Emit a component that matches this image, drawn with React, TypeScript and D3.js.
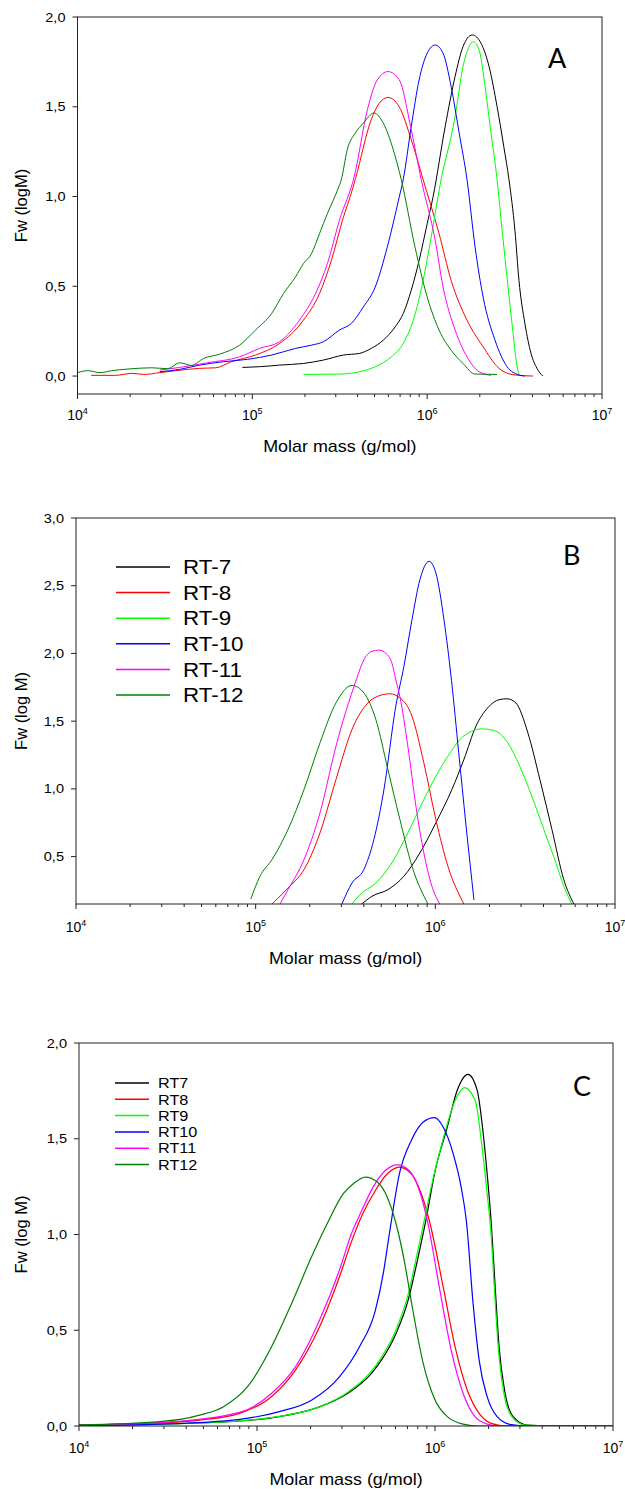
import React from 'react'
import * as d3 from 'd3'

// each point: [log10 of molar mass, Fw]
type Pt = [number, number]

const COLORS = ['#000000', '#ff0000', '#00ff00', '#0000ff', '#ff00ff', '#007f00']
const NAMES_B = ['RT-7', 'RT-8', 'RT-9', 'RT-10', 'RT-11', 'RT-12']
const NAMES_C = ['RT7', 'RT8', 'RT9', 'RT10', 'RT11', 'RT12']
const X_DECADES = [4, 5, 6, 7]

// ---- panel A
const A_RT7: Pt[] = [[4.943, 0.048], [5.041, 0.052], [5.155, 0.061], [5.292, 0.07], [5.406, 0.089], [5.521, 0.117], [5.612, 0.126], [5.68, 0.154], [5.749, 0.2], [5.817, 0.274], [5.863, 0.348], [5.909, 0.478], [5.954, 0.644], [6.0, 0.848], [6.034, 1.0], [6.103, 1.39], [6.16, 1.67], [6.205, 1.835], [6.258, 1.9], [6.308, 1.854], [6.354, 1.724], [6.4, 1.5], [6.438, 1.28], [6.468, 1.094], [6.502, 0.811], [6.525, 0.533], [6.559, 0.293], [6.594, 0.126], [6.628, 0.043], [6.662, 0]]
const A_RT8: Pt[] = [[4.078, 0.004], [4.219, 0.004], [4.311, 0.015], [4.379, 0.009], [4.47, 0.019], [4.562, 0.03], [4.699, 0.043], [4.79, 0.046], [4.881, 0.08], [5.018, 0.117], [5.155, 0.181], [5.292, 0.311], [5.384, 0.459], [5.452, 0.644], [5.521, 0.885], [5.56, 1.0], [5.59, 1.1], [5.68, 1.428], [5.726, 1.52], [5.776, 1.552], [5.84, 1.5], [5.909, 1.317], [5.977, 1.094], [6.068, 0.793], [6.137, 0.533], [6.228, 0.311], [6.32, 0.163], [6.411, 0.043], [6.502, 0.006], [6.605, 0]]
const A_RT9: Pt[] = [[5.292, 0.009], [5.498, 0.011], [5.612, 0.024], [5.703, 0.052], [5.795, 0.107], [5.863, 0.181], [5.932, 0.348], [5.977, 0.533], [6.023, 0.774], [6.075, 1.07], [6.16, 1.446], [6.205, 1.724], [6.24, 1.835], [6.263, 1.863], [6.297, 1.817], [6.331, 1.613], [6.365, 1.354], [6.4, 1.094], [6.43, 0.8], [6.46, 0.52], [6.49, 0.25], [6.51, 0.08], [6.525, 0.005]]
const A_RT10: Pt[] = [[4.47, 0.024], [4.584, 0.037], [4.699, 0.061], [4.836, 0.08], [4.973, 0.093], [5.11, 0.117], [5.247, 0.154], [5.338, 0.172], [5.406, 0.191], [5.498, 0.256], [5.566, 0.293], [5.635, 0.385], [5.703, 0.496], [5.772, 0.719], [5.84, 0.996], [5.863, 1.094], [5.909, 1.39], [5.954, 1.65], [6.0, 1.798], [6.046, 1.844], [6.091, 1.798], [6.137, 1.613], [6.183, 1.354], [6.228, 1.094], [6.274, 0.719], [6.32, 0.44], [6.388, 0.2], [6.457, 0.052], [6.525, 0.006], [6.559, 0]]
const A_RT11: Pt[] = [[4.47, 0.033], [4.584, 0.048], [4.744, 0.074], [4.927, 0.107], [5.041, 0.154], [5.155, 0.191], [5.269, 0.311], [5.361, 0.459], [5.429, 0.626], [5.498, 0.867], [5.585, 1.12], [5.658, 1.483], [5.715, 1.65], [5.776, 1.696], [5.84, 1.65], [5.909, 1.372], [5.966, 1.094], [6.046, 0.756], [6.091, 0.496], [6.16, 0.256], [6.228, 0.107], [6.297, 0.024], [6.365, 0.004]]
const A_RT12: Pt[] = [[4.0, 0.019], [4.059, 0.03], [4.128, 0.019], [4.196, 0.03], [4.288, 0.039], [4.425, 0.046], [4.516, 0.041], [4.584, 0.074], [4.653, 0.059], [4.721, 0.098], [4.813, 0.122], [4.927, 0.172], [5.018, 0.256], [5.11, 0.348], [5.178, 0.459], [5.247, 0.552], [5.292, 0.626], [5.338, 0.681], [5.384, 0.793], [5.429, 0.904], [5.486, 1.033], [5.509, 1.094], [5.543, 1.261], [5.589, 1.354], [5.635, 1.409], [5.696, 1.465], [5.749, 1.409], [5.806, 1.261], [5.852, 1.094], [5.93, 0.72], [6.0, 0.441], [6.068, 0.256], [6.137, 0.144], [6.205, 0.07], [6.274, 0.011], [6.4, 0.009]]

// ---- panel B
const B_RT7: Pt[] = [[5.591, 0.15], [5.647, 0.207], [5.736, 0.256], [5.825, 0.355], [5.914, 0.527], [6.003, 0.749], [6.092, 0.995], [6.159, 1.217], [6.226, 1.463], [6.292, 1.599], [6.359, 1.66], [6.399, 1.665], [6.448, 1.635], [6.515, 1.414], [6.582, 1.069], [6.649, 0.7], [6.715, 0.33], [6.771, 0.15]]
const B_RT8: Pt[] = [[5.091, 0.15], [5.18, 0.268], [5.269, 0.404], [5.358, 0.675], [5.447, 1.069], [5.536, 1.438], [5.625, 1.635], [5.692, 1.69], [5.747, 1.702], [5.803, 1.672], [5.87, 1.537], [5.936, 1.192], [6.003, 0.773], [6.07, 0.429], [6.159, 0.15]]
const B_RT9: Pt[] = [[5.536, 0.15], [5.58, 0.219], [5.669, 0.305], [5.758, 0.453], [5.847, 0.675], [5.936, 0.921], [6.003, 1.094], [6.07, 1.241], [6.137, 1.365], [6.203, 1.426], [6.259, 1.443], [6.337, 1.426], [6.403, 1.34], [6.47, 1.167], [6.537, 0.946], [6.604, 0.7], [6.671, 0.453], [6.715, 0.281], [6.76, 0.15]]
const B_RT10: Pt[] = [[5.48, 0.15], [5.536, 0.305], [5.602, 0.404], [5.658, 0.626], [5.714, 0.995], [5.78, 1.611], [5.825, 1.904], [5.87, 2.249], [5.914, 2.544], [5.965, 2.68], [6.003, 2.594], [6.048, 2.249], [6.09, 1.8], [6.13, 1.27], [6.17, 0.74], [6.215, 0.18]]
const B_RT11: Pt[] = [[5.135, 0.15], [5.18, 0.256], [5.269, 0.478], [5.358, 0.823], [5.447, 1.315], [5.56, 1.805], [5.602, 1.953], [5.647, 2.015], [5.687, 2.025], [5.725, 2.0], [5.758, 1.93], [5.78, 1.805], [5.803, 1.68], [5.847, 1.315], [5.892, 0.872], [5.936, 0.527], [5.981, 0.281], [6.025, 0.15]]
const B_RT12: Pt[] = [[4.973, 0.187], [5.024, 0.355], [5.091, 0.478], [5.18, 0.7], [5.269, 0.995], [5.358, 1.34], [5.447, 1.635], [5.536, 1.764], [5.602, 1.709], [5.669, 1.512], [5.736, 1.143], [5.803, 0.773], [5.87, 0.429], [5.959, 0.15]]

// ---- panel C
const C_RT7: Pt[] = [[4.0, 0.003], [4.453, 0.01], [4.902, 0.026], [5.126, 0.049], [5.351, 0.1], [5.508, 0.17], [5.642, 0.274], [5.7, 0.345], [5.78, 0.48], [5.85, 0.66], [5.9, 0.86], [5.95, 1.08], [6.0, 1.33], [6.069, 1.561], [6.125, 1.753], [6.185, 1.836], [6.237, 1.753], [6.271, 1.526], [6.298, 1.265], [6.315, 1.073], [6.338, 0.726], [6.36, 0.413], [6.394, 0.17], [6.439, 0.049], [6.518, 0.005], [6.697, 0], [7.0, 0]]
const C_RT8: Pt[] = [[4.0, 0.004], [4.453, 0.016], [4.678, 0.031], [4.902, 0.066], [5.081, 0.153], [5.216, 0.292], [5.351, 0.517], [5.463, 0.778], [5.53, 0.96], [5.59, 1.1], [5.665, 1.23], [5.732, 1.317], [5.8, 1.352], [5.867, 1.317], [5.923, 1.213], [5.968, 1.073], [6.046, 0.726], [6.113, 0.413], [6.181, 0.188], [6.248, 0.066], [6.315, 0.014], [6.405, 0], [7.0, 0]]
const C_RT9: Pt[] = [[4.0, 0.003], [4.453, 0.01], [4.902, 0.027], [5.126, 0.05], [5.351, 0.1], [5.508, 0.175], [5.642, 0.285], [5.7, 0.36], [5.78, 0.5], [5.85, 0.69], [5.9, 0.9], [5.95, 1.12], [5.979, 1.25], [6.046, 1.5], [6.113, 1.7], [6.165, 1.767], [6.226, 1.7], [6.26, 1.491], [6.293, 1.213], [6.315, 1.003], [6.333, 0.726], [6.355, 0.413], [6.387, 0.17], [6.432, 0.049], [6.506, 0.005], [6.69, 0], [7.0, 0]]
const C_RT10: Pt[] = [[4.0, 0.003], [4.453, 0.01], [4.902, 0.035], [5.126, 0.075], [5.306, 0.135], [5.463, 0.257], [5.575, 0.413], [5.665, 0.604], [5.71, 0.8], [5.743, 1.0], [5.8, 1.317], [5.867, 1.491], [5.934, 1.587], [5.997, 1.61], [6.046, 1.561], [6.102, 1.422], [6.147, 1.247], [6.176, 1.073], [6.214, 0.639], [6.248, 0.344], [6.293, 0.153], [6.349, 0.049], [6.428, 0.007], [6.518, 0], [7.0, 0]]
const C_RT11: Pt[] = [[4.0, 0.005], [4.453, 0.017], [4.902, 0.071], [5.081, 0.17], [5.216, 0.309], [5.351, 0.552], [5.463, 0.813], [5.53, 1.003], [5.586, 1.12], [5.654, 1.25], [5.721, 1.334], [5.788, 1.364], [5.855, 1.334], [5.912, 1.23], [5.957, 1.073], [6.024, 0.726], [6.091, 0.396], [6.158, 0.17], [6.225, 0.049], [6.293, 0.01], [6.36, 0], [7.0, 0]]
const C_RT12: Pt[] = [[4.0, 0.006], [4.453, 0.023], [4.678, 0.057], [4.812, 0.101], [4.947, 0.205], [5.081, 0.413], [5.194, 0.639], [5.306, 0.882], [5.396, 1.06], [5.485, 1.213], [5.541, 1.265], [5.609, 1.3], [5.676, 1.274], [5.732, 1.195], [5.78, 1.06], [5.83, 0.85], [5.867, 0.65], [5.934, 0.326], [6.001, 0.135], [6.069, 0.049], [6.158, 0.01], [6.248, 0], [7.0, 0]]

const A_SERIES = [A_RT7, A_RT8, A_RT9, A_RT10, A_RT11, A_RT12]
const B_SERIES = [B_RT7, B_RT8, B_RT9, B_RT10, B_RT11, B_RT12]
const C_SERIES = [C_RT7, C_RT8, C_RT9, C_RT10, C_RT11, C_RT12]

const A_YTICKS = [0, 0.5, 1.0, 1.5, 2.0]
const B_YTICKS = [0.5, 1.0, 1.5, 2.0, 2.5, 3.0]
const C_YTICKS = [0, 0.5, 1.0, 1.5, 2.0]

const FONT = '"Liberation Sans", Arial, sans-serif'
const SX = 1.12 // the source figure is a little stretched sideways

const fmt = (v: number) => d3.format('.1f')(v).replace('.', ',')

function Txt({ x, y, size, anchor = 'start', family = FONT, children }: any) {
  return <text transform={`translate(${x},${y}) scale(${SX},1)`} fontSize={size}
               textAnchor={anchor} fontFamily={family} fill="#000">{children}</text>
}

function Panel({ id, series, box, yDomain, yTicks, tickY, titleY, yTitle, letter, letterPos,
                 legend, lineW }: any) {
  const { left, right, top, bottom } = box
  const x = d3.scaleLog().domain([1e4, 1e7]).range([left, right])
  const y = d3.scaleLinear().domain(yDomain).range([bottom, top])
  const line = d3.line<Pt>()
    .x(d => x(Math.pow(10, d[0])))
    .y(d => y(d[1]))
    .curve(d3.curveMonotoneX)

  const minor: number[] = []
  X_DECADES.slice(0, -1).forEach(k => {
    for (let m = 2; m <= 9; m++) minor.push(m * Math.pow(10, k))
  })

  return <g>
    <defs>
      <clipPath id={`clip-${id}`}>
        <rect x={left} y={top} width={right - left} height={bottom - top} />
      </clipPath>
    </defs>

    {/* curves */}
    <g clipPath={`url(#clip-${id})`} fill="none" strokeWidth={lineW}>
      {series.map((s: Pt[], i: number) =>
        <path key={i} d={line(s) || ''} stroke={COLORS[i]} />)}
    </g>

    {/* frame */}
    <rect x={left} y={top} width={right - left} height={bottom - top}
          fill="none" stroke="#222" strokeWidth={1} />

    {/* y axis */}
    {yTicks.map((t: number) => <g key={t}>
      <line x1={left - 5} x2={left} y1={y(t)} y2={y(t)} stroke="#222" />
      <Txt x={left - 12} y={y(t) + 4.5} size={13} anchor="end">{fmt(t)}</Txt>
    </g>)}

    {/* x axis */}
    {X_DECADES.map(k => {
      const px = x(Math.pow(10, k))
      return <g key={k}>
        <line x1={px} x2={px} y1={bottom} y2={bottom + 5} stroke="#222" />
        <text x={px} y={tickY} fontSize={14} textAnchor="middle" fontFamily={FONT}>
          10<tspan dy={-6} fontSize={9}>{k}</tspan>
        </text>
      </g>
    })}
    {minor.map(v =>
      <line key={v} x1={x(v)} x2={x(v)} y1={bottom} y2={bottom + 3} stroke="#222" />)}

    <Txt x={(left + right) / 2} y={titleY} size={16} anchor="middle">Molar mass (g/mol)</Txt>
    <text transform={`translate(27,${(top + bottom) / 2}) rotate(-90)`} fontSize={16.5}
          textAnchor="middle" fontFamily={FONT}>{yTitle}</text>

    <text x={letterPos[0]} y={letterPos[1]} fontSize={27} fontFamily="Lato, sans-serif">{letter}</text>

    {legend && legend.names.map((n: string, i: number) => {
      const cy = legend.y + i * legend.step
      return <g key={n}>
        <line x1={legend.x1} x2={legend.x2} y1={cy} y2={cy} stroke={COLORS[i]} strokeWidth={legend.w} />
        <Txt x={legend.tx} y={cy + legend.size * 0.36} size={legend.size}>{n}</Txt>
      </g>
    })}
  </g>
}

export default function App() {
  return <svg width={625} height={1489} style={{ position: 'absolute', left: 0, top: 0, background: '#fff' }}>
    <rect width={625} height={1489} fill="#fff" />
    <Panel id="a" series={A_SERIES}
           box={{ left: 77.5, right: 602, top: 17, bottom: 394 }}
           yDomain={[-0.1, 2.0]} yTicks={A_YTICKS} tickY={420} titleY={452}
           yTitle="Fw (logM)" letter="A" letterPos={[548, 68]} lineW={1} />
    <Panel id="b" series={B_SERIES}
           box={{ left: 76, right: 615, top: 518, bottom: 904 }}
           yDomain={[0.15, 3.0]} yTicks={B_YTICKS} tickY={932} titleY={964}
           yTitle="Fw (log M)" letter="B" letterPos={[563, 565]} lineW={1}
           legend={{ names: NAMES_B, x1: 116, x2: 170, tx: 183, y: 567, step: 25.6, size: 20, w: 1.5 }} />
    <Panel id="c" series={C_SERIES}
           box={{ left: 79, right: 613, top: 1043, bottom: 1426 }}
           yDomain={[0, 2.0]} yTicks={C_YTICKS} tickY={1453} titleY={1485}
           yTitle="Fw (log M)" letter="C" letterPos={[573, 1096]} lineW={1.2}
           legend={{ names: NAMES_C, x1: 115, x2: 149, tx: 158, y: 1083, step: 16.3, size: 14.5, w: 1.5 }} />
  </svg>
}
